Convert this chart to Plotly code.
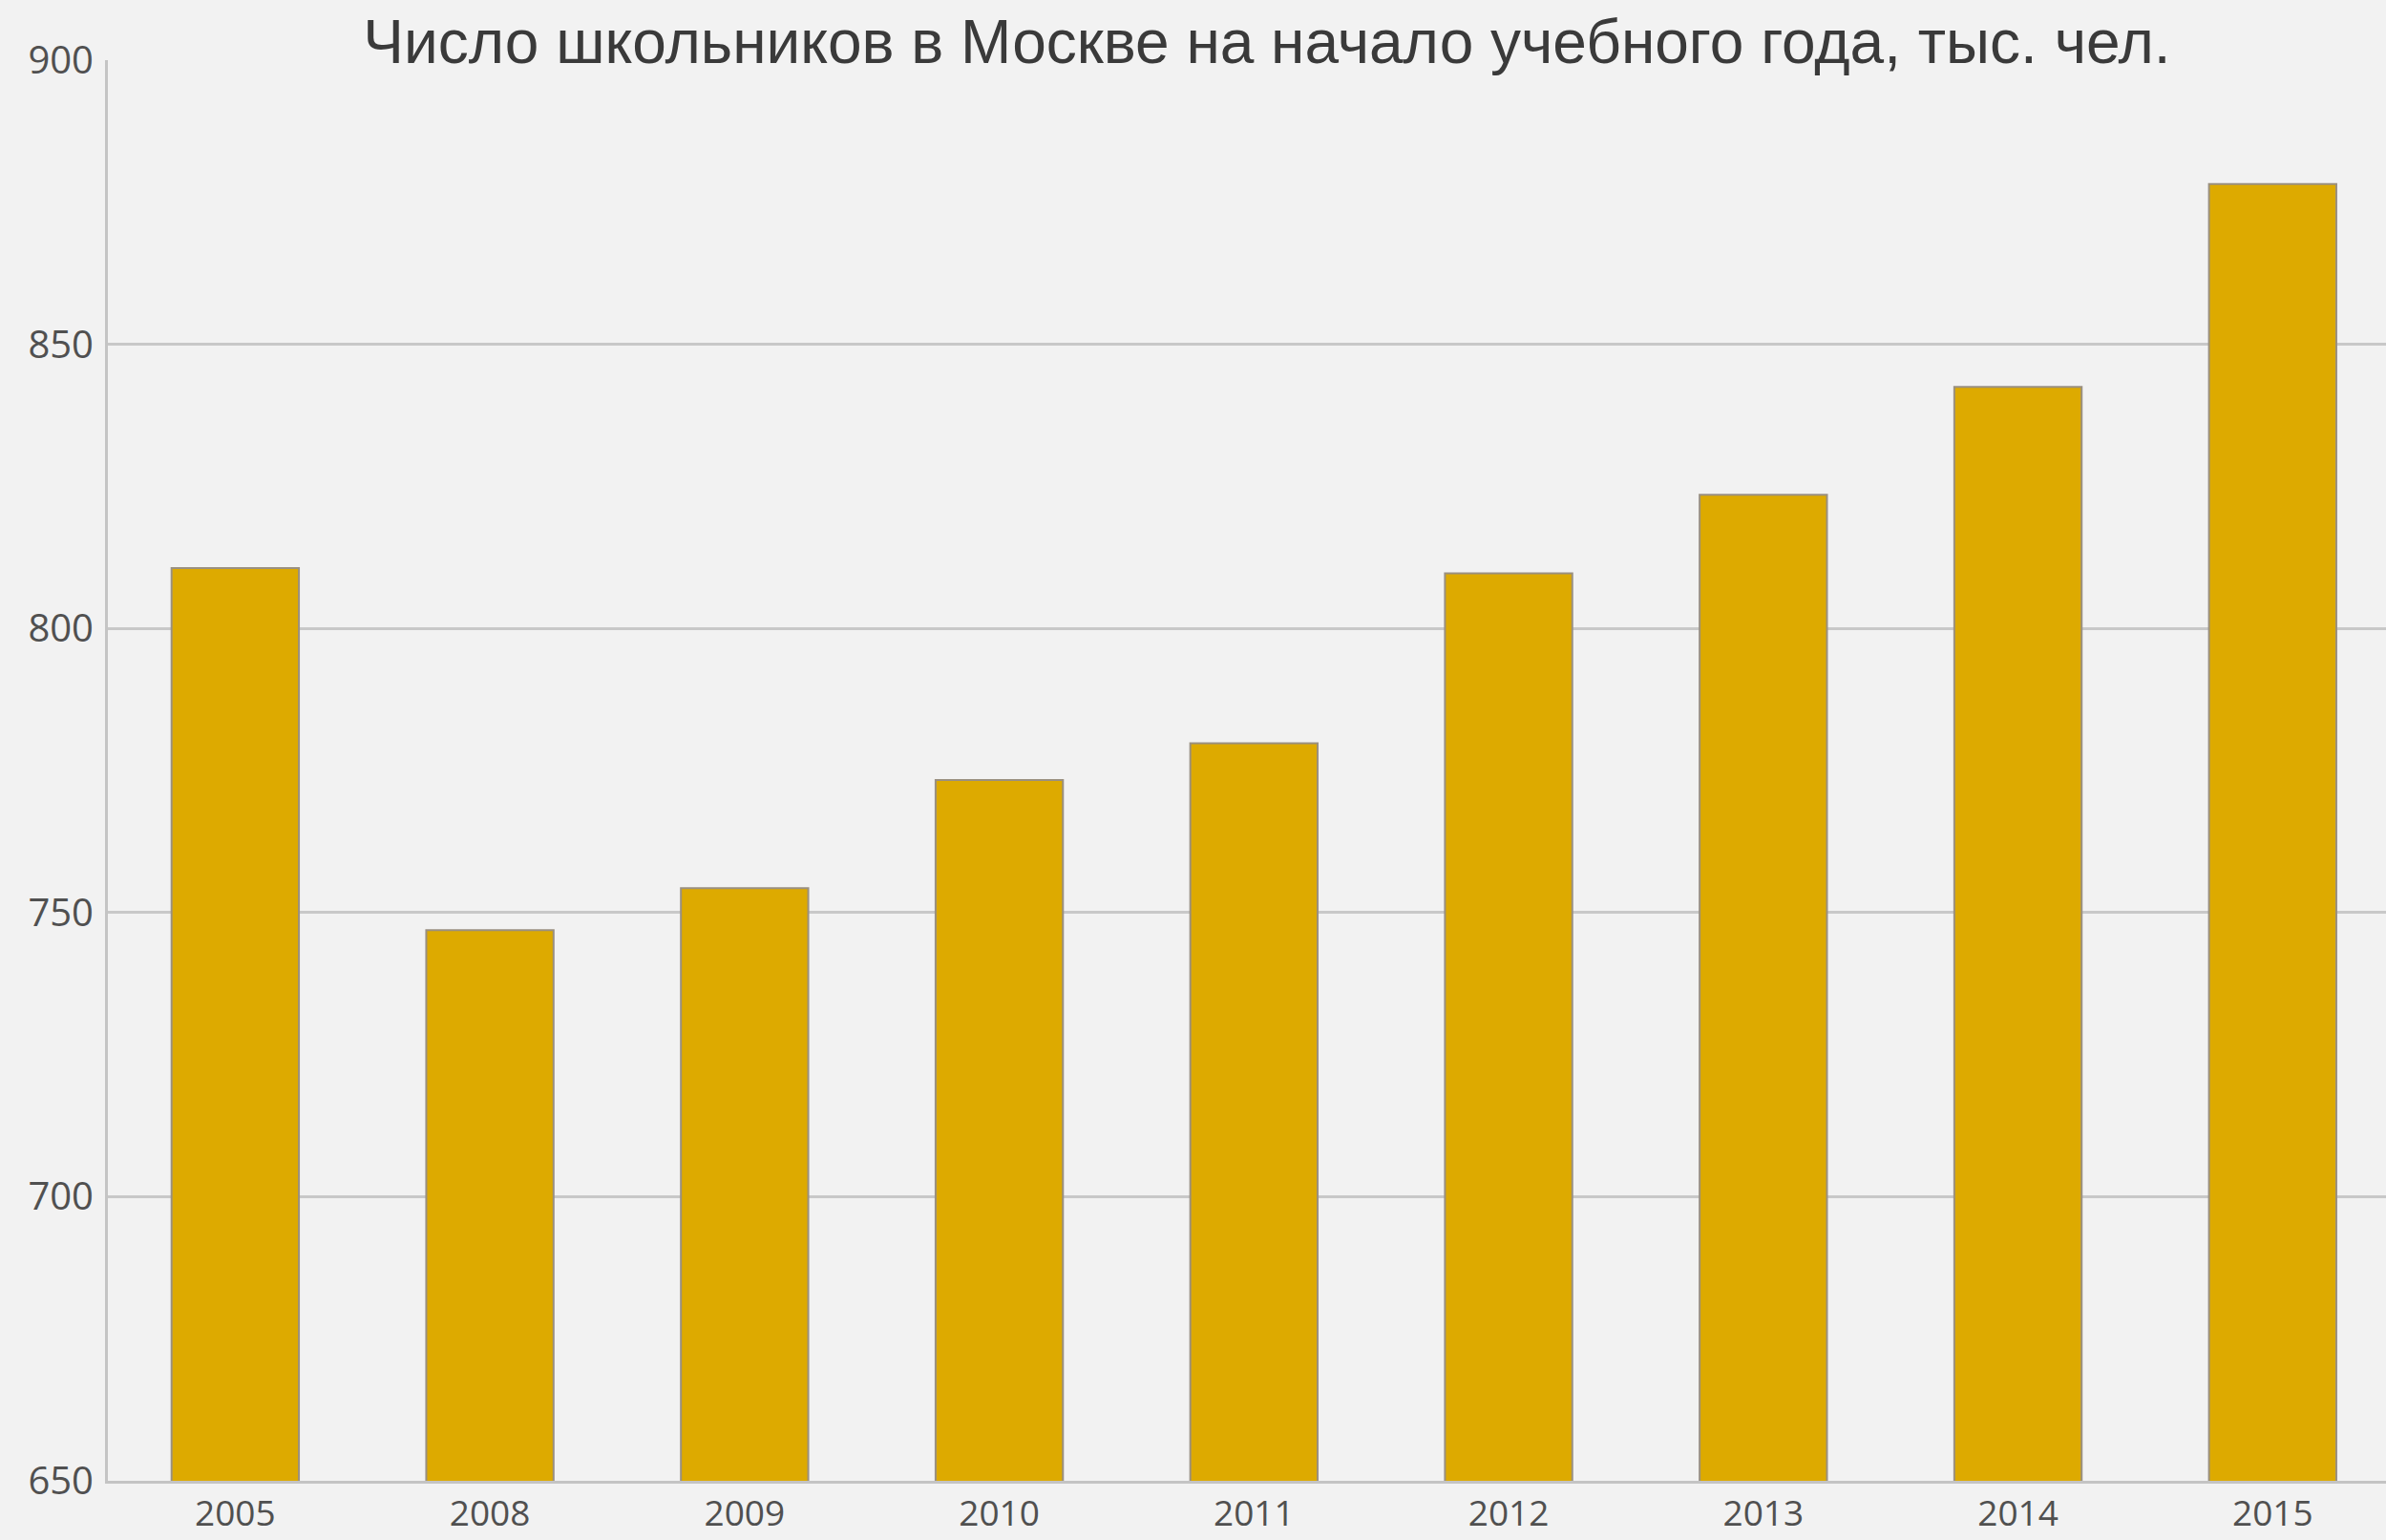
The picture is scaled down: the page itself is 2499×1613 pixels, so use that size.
import plotly.graph_objects as go

years = ["2005", "2008", "2009", "2010", "2011", "2012", "2013", "2014", "2015"]
pupils = [810.6, 746.9, 754.3, 773.3, 779.8, 809.7, 823.5, 842.5, 878.2]
y_ticks = [650, 700, 750, 800, 850, 900]
title_text = "Число школьников в Москве на начало учебного года, тыс. чел."

fig = go.Figure(
    go.Bar(
        x=years,
        y=pupils,
        width=0.5,
        marker=dict(color="#DDAA00", line=dict(color="#9a9080", width=2)),
        hoverinfo="x+y",
    )
)

fig.update_layout(
    width=2499,
    height=1613,
    paper_bgcolor="#f2f2f2",
    plot_bgcolor="#f2f2f2",
    margin=dict(l=113, r=0, t=63, b=62, autoexpand=False),
    showlegend=False,
    title=dict(
        text=title_text,
        xref="container",
        yref="container",
        x=0.531,
        y=0.973,
        xanchor="center",
        yanchor="middle",
        font=dict(family="Liberation Sans, Arial, sans-serif", size=64, color="#3a3a3a"),
    ),
)

fig.update_xaxes(
    type="category",
    range=[-0.5, 8.445],
    automargin=False,
    showgrid=False,
    showline=True,
    linecolor="#c4c4c4",
    linewidth=3,
    ticks="",
    tickfont=dict(family="Open Sans, sans-serif", size=37, color="#505050"),
    ticklabelstandoff=0,
)

fig.update_yaxes(
    range=[650, 900],
    tickvals=y_ticks,
    automargin=False,
    showgrid=True,
    gridcolor="#c8c8c8",
    gridwidth=3,
    showline=True,
    linecolor="#c4c4c4",
    linewidth=3,
    zeroline=False,
    ticks="",
    tickfont=dict(family="Open Sans, sans-serif", size=40, color="#505050"),
    ticklabelstandoff=4,
)

fig.write_html(
    "out.html",
    config={"displayModeBar": False},
    post_script="document.body.style.margin='0';document.body.style.padding='0';document.body.style.overflow='hidden';document.body.style.background='#f2f2f2';",
)
